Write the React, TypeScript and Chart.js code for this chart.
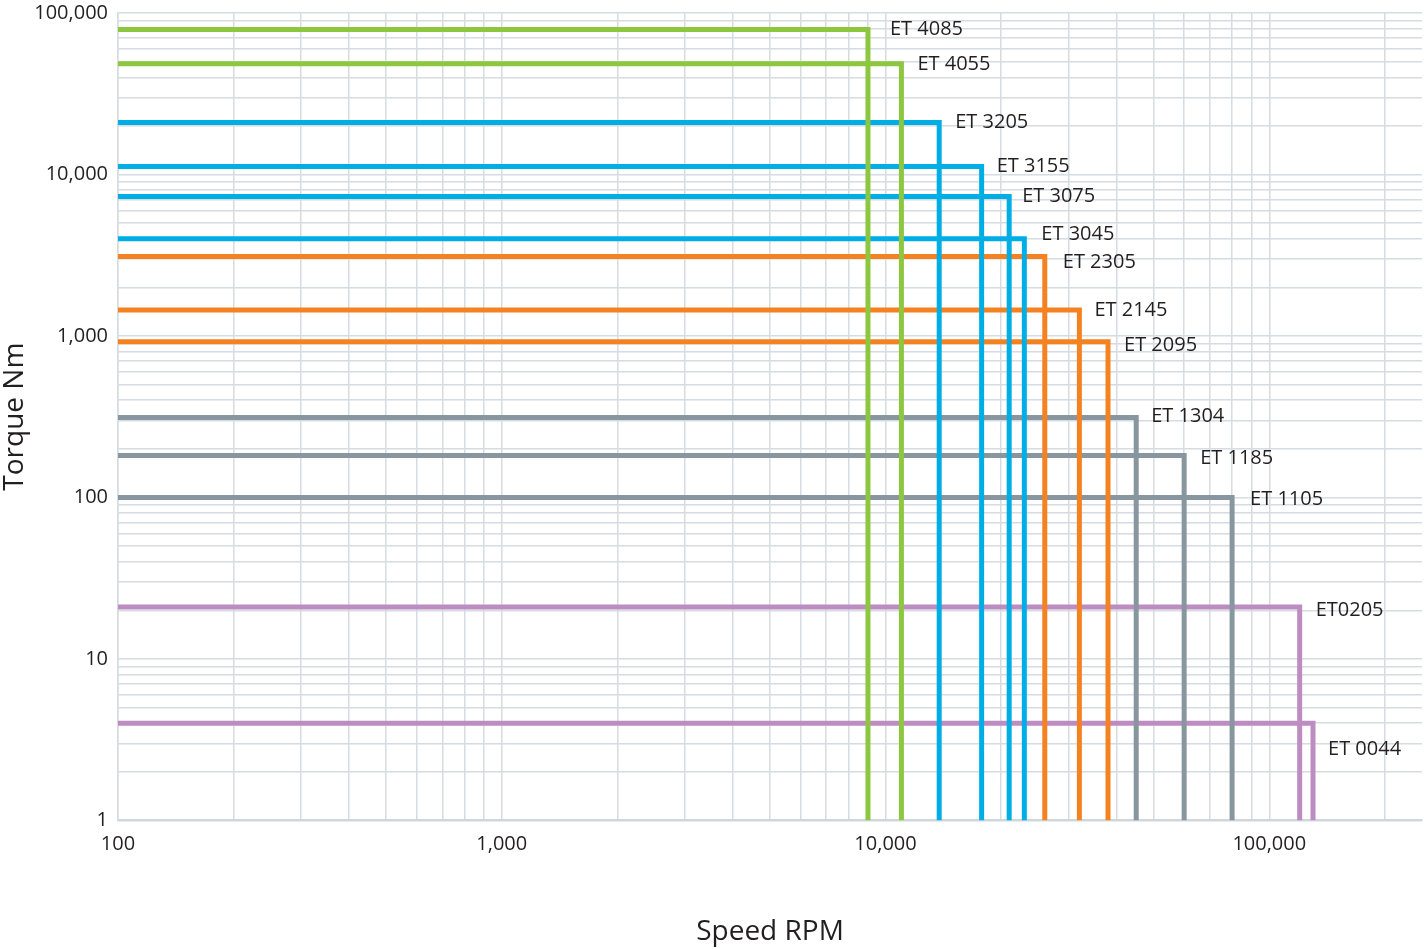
import React, { useEffect, useRef } from "react";
import { Chart, registerables } from "chart.js";

Chart.register(...registerables);

const SERIES_NAMES = [
  "ET 4085", "ET 4055", "ET 3205", "ET 3155", "ET 3075", "ET 3045", "ET 2305",
  "ET 2145", "ET 2095", "ET 1304", "ET 1185", "ET 1105", "ET0205", "ET 0044",
];
const MAX_TORQUE = [79000, 48500, 21000, 11200, 7300, 4000, 3100, 1450, 920, 313, 182, 100, 21, 4];
const MAX_SPEED = [9000, 11000, 13800, 17800, 21000, 23000, 26000, 32000, 38000, 45000, 60000, 80000, 120000, 130000];

const GREEN = "#8dc63f";
const BLUE = "#00aee6";
const ORANGE = "#f58220";
const GRAY = "#8896a0";
const PURPLE = "#bd8dc1";
const SERIES_COLORS = [GREEN, GREEN, BLUE, BLUE, BLUE, BLUE, ORANGE, ORANGE, ORANGE, GRAY, GRAY, GRAY, PURPLE, PURPLE];

// label offsets (pixels) relative to the corner of each curve
const LABEL_DX = [22, 16, 16, 15, 13, 17, 18, 15, 16, 15, 16, 18, 16, 15];
const LABEL_DY = [0, 1, 0, 0, 0, -4, 6, 0, 3, -1, 3, 2, 3, 26];

const MIN_SPEED = 100;
const MAX_SPEED_AXIS = 250000;
const MIN_TORQUE = 1;
const MAX_TORQUE_AXIS = 100000;

const X_DECADES = [100, 1000, 10000, 100000];
const Y_DECADES = [1, 10, 100, 1000, 10000, 100000];
const MINOR_STEPS = [1, 2, 3, 4, 5, 6, 7, 8, 9];

const FONT = '"Open Sans", "Noto Sans", sans-serif';
const TEXT_COLOR = "#231f20";
const GRID_COLOR = "#d5dce2";

function buildTicks(decades: number[], min: number, max: number) {
  const out: { value: number }[] = [];
  decades.forEach((d) => {
    MINOR_STEPS.forEach((m) => {
      const v = d * m;
      if (v >= min && v <= max) out.push({ value: v });
    });
  });
  return out;
}

const labelPlugin = {
  id: "seriesLabels",
  afterDatasetsDraw(chart: any) {
    const { ctx, scales } = chart;
    const x = scales.x;
    const y = scales.y;
    ctx.save();
    ctx.font = `20px ${FONT}`;
    ctx.fillStyle = TEXT_COLOR;
    ctx.textAlign = "left";
    ctx.textBaseline = "middle";
    SERIES_NAMES.forEach((name, i) => {
      const px = x.getPixelForValue(MAX_SPEED[i]) + LABEL_DX[i];
      const py = y.getPixelForValue(MAX_TORQUE[i]) + LABEL_DY[i];
      ctx.fillText(name, px, py);
    });
    ctx.restore();
  },
};

export default function App() {
  const canvasRef = useRef<HTMLCanvasElement | null>(null);

  useEffect(() => {
    if (!canvasRef.current) return;
    const datasets = SERIES_NAMES.map((name, i) => ({
      label: name,
      data: [
        { x: MIN_SPEED, y: MAX_TORQUE[i] },
        { x: MAX_SPEED[i], y: MAX_TORQUE[i] },
        { x: MAX_SPEED[i], y: MIN_TORQUE },
      ],
      borderColor: SERIES_COLORS[i],
      backgroundColor: SERIES_COLORS[i],
      borderWidth: 5,
      pointRadius: 0,
      pointHoverRadius: 0,
      fill: false,
      tension: 0,
      borderJoinStyle: "miter" as const,
      borderCapStyle: "butt" as const,
    }));

    const chart = new Chart(canvasRef.current, {
      type: "line",
      data: { datasets },
      options: {
        animation: false,
        responsive: false,
        devicePixelRatio: 1,
        parsing: false as any,
        layout: { padding: { top: 0, right: 2, left: 0, bottom: 0 } },
        plugins: {
          legend: { display: false },
          tooltip: { enabled: false },
        },
        scales: {
          x: {
            type: "logarithmic",
            min: MIN_SPEED,
            max: MAX_SPEED_AXIS,
            afterBuildTicks: (axis: any) => {
              axis.ticks = buildTicks(X_DECADES, MIN_SPEED, MAX_SPEED_AXIS);
            },
            ticks: {
              autoSkip: false,
              maxRotation: 0,
              padding: 12,
              color: TEXT_COLOR,
              font: { family: FONT, size: 20 },
              callback: (v: any) => (X_DECADES.includes(Number(v)) ? Number(v).toLocaleString("en-US") : ""),
            },
            grid: { color: GRID_COLOR, lineWidth: 1.5, drawTicks: false },
            border: { color: "#cfd7de", width: 2 },
            title: {
              display: true,
              text: "Speed RPM",
              color: TEXT_COLOR,
              font: { family: FONT, size: 28 },
              padding: { top: 47, bottom: 0 },
            },
          },
          y: {
            type: "logarithmic",
            min: MIN_TORQUE,
            max: MAX_TORQUE_AXIS,
            afterBuildTicks: (axis: any) => {
              axis.ticks = buildTicks(Y_DECADES, MIN_TORQUE, MAX_TORQUE_AXIS);
            },
            afterFit: (axis: any) => {
              axis.paddingTop = 13;
              axis.width = 118;
            },
            ticks: {
              autoSkip: false,
              padding: 10,
              color: TEXT_COLOR,
              font: { family: FONT, size: 20 },
              callback: (v: any) => (Y_DECADES.includes(Number(v)) ? Number(v).toLocaleString("en-US") : ""),
            },
            grid: { color: GRID_COLOR, lineWidth: 1.5, drawTicks: false },
            border: { color: GRID_COLOR, width: 1.5 },
            title: {
              display: true,
              text: "Torque Nm",
              color: TEXT_COLOR,
              font: { family: FONT, size: 28, lineHeight: 1.1 },
              padding: { top: 0, bottom: 0 },
            },
          },
        },
      },
      plugins: [labelPlugin],
    });
    return () => chart.destroy();
  }, []);

  return (
    <div style={{ position: "fixed", left: 0, top: 0, width: 1424, height: 949, background: "#fff" }}>
      <canvas ref={canvasRef} width={1424} height={949} style={{ width: 1424, height: 949, display: "block" }} />
    </div>
  );
}
